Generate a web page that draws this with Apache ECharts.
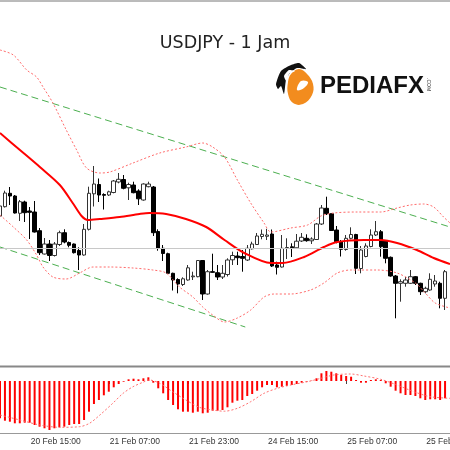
<!DOCTYPE html>
<html><head><meta charset="utf-8">
<script src="https://cdn.jsdelivr.net/npm/echarts@6/dist/echarts.min.js"></script>
<style>html,body{margin:0;padding:0;background:#fff}#c{width:450px;height:450px}</style>
</head><body><div id="c"></div>
<script>
// ---- hourly bar times (20 Feb 09:00 onward, weekend skipped) ----
function buildTimes(n){const out=[];let d=20,h=9;for(let i=0;i<n;i++){out.push(d+' Feb '+String(h).padStart(2,'0')+':00');h++;if(h===24){h=0;d=(d===21)?24:d+1;}}return out;}
const times = buildTimes(92);
const tickLabels = ['20 Feb 15:00','21 Feb 07:00','21 Feb 23:00','24 Feb 15:00','25 Feb 07:00','25 Feb 23:00'];

// ---- candle values ----
const open  = [149.64,149.733,149.867,149.84,149.667,149.78,149.69,149.68,149.493,149.26,149.36,149.245,149.355,149.473,149.375,149.36,149.295,149.25,149.507,149.862,149.955,149.855,149.85,149.875,149.98,150.005,149.922,149.95,149.89,149.8,149.933,149.93,149.485,149.317,149.263,149.067,149.005,148.955,149.0,149.032,149.033,149.195,148.86,149.083,149.073,149.03,149.055,149.202,149.24,149.235,149.2,149.312,149.355,149.435,149.437,149.46,149.15,149.13,149.315,149.332,149.322,149.39,149.417,149.392,149.405,149.56,149.717,149.663,149.5,149.383,149.305,149.417,149.455,149.115,149.235,149.335,149.45,149.483,149.39,149.227,149.04,148.967,148.967,148.967,149.033,148.967,148.883,148.9,148.96,148.967,148.817];
const close = [149.74,149.87,149.84,149.67,149.783,149.673,149.677,149.48,149.273,149.36,149.245,149.36,149.473,149.38,149.347,149.273,149.25,149.507,149.867,149.96,149.85,149.847,149.882,149.99,150.007,149.917,149.955,149.873,149.812,149.96,149.96,149.473,149.317,149.265,149.067,149.0,148.96,149.012,149.122,149.04,149.195,148.86,149.083,149.077,149.03,149.067,149.2,149.245,149.223,149.217,149.317,149.36,149.44,149.457,149.45,149.14,149.127,149.317,149.325,149.322,149.388,149.427,149.393,149.41,149.56,149.72,149.663,149.495,149.383,149.307,149.417,149.455,149.117,149.3,149.34,149.45,149.483,149.333,149.217,149.04,148.967,148.983,149.0,149.033,148.967,148.883,148.917,149.007,148.99,148.817,149.083];
const low   = [149.62,149.725,149.75,149.665,149.59,149.58,149.41,149.475,149.25,149.255,149.19,149.235,149.34,149.367,149.327,149.265,149.1,149.243,149.495,149.735,149.78,149.705,149.84,149.867,149.967,149.907,149.8,149.867,149.75,149.793,149.927,149.44,149.293,149.19,149.06,148.895,148.867,148.94,148.993,149.0,149.027,148.8,148.853,149.073,149.0,149.01,149.035,149.15,149.15,149.083,149.19,149.305,149.35,149.407,149.4,149.13,149.055,149.125,149.21,149.23,149.317,149.38,149.383,149.36,149.4,149.55,149.65,149.49,149.367,149.235,149.293,149.407,149.06,149.067,149.227,149.327,149.44,149.233,149.167,149.033,148.617,148.783,148.933,148.96,148.95,148.85,148.867,148.893,148.933,148.717,148.7];
const high  = [149.76,149.893,149.93,149.85,149.8,149.793,149.73,149.79,149.52,149.42,149.4,149.38,149.493,149.507,149.385,149.365,149.327,149.56,149.933,150.14,150.015,149.867,149.893,150.0,150.07,150.05,149.973,149.983,149.907,149.967,149.983,149.94,149.507,149.35,149.273,149.073,149.017,149.027,149.15,149.083,149.2,149.2,149.1,149.263,149.15,149.15,149.217,149.283,149.283,149.3,149.35,149.383,149.47,149.505,149.512,149.505,149.183,149.45,149.417,149.367,149.46,149.47,149.457,149.427,149.57,149.75,149.833,149.67,149.54,149.4,149.45,149.527,149.462,149.34,149.367,149.507,149.59,149.5,149.4,149.235,149.05,149.007,149.03,149.1,149.04,148.973,148.933,149.067,149.05,148.983,149.1];

// ---- overlays: [bar index, price] ----
const maLine = [[0,150.47],[4.03,150.30],[8.06,150.13],[12.1,149.95],[14.7,149.77],[16.5,149.64],[17.8,149.60],[20.2,149.61],[24.2,149.63],[28.2,149.66],[30.2,149.67],[33.6,149.66],[37.6,149.61],[41.7,149.53],[45.4,149.40],[49.4,149.27],[54.8,149.17],[57.1,149.17],[61.5,149.23],[65.5,149.33],[68.2,149.38],[73.6,149.40],[77,149.40],[80.3,149.37],[84.3,149.30],[87.7,149.22],[91,149.16]];
const upperBand = [[0,151.30],[2.7,151.25],[5.4,151.10],[7.4,151.03],[8.7,150.93],[10.7,150.77],[13.4,150.50],[15.5,150.30],[17.5,150.12],[20.2,150.07],[22.2,150.08],[26.9,150.17],[32.3,150.27],[37.6,150.33],[41,150.37],[43,150.33],[45.4,150.23],[48,150.00],[50.7,149.77],[53.4,149.57],[54.8,149.48],[58.8,149.52],[62.2,149.55],[64.9,149.64],[67.5,149.67],[72.2,149.68],[77,149.68],[80.3,149.72],[83,149.75],[85.7,149.76],[87.7,149.73],[89.7,149.63],[91,149.57]];
const lowerBand = [[0,149.65],[2.7,149.53],[5.4,149.40],[7.4,149.25],[8.7,149.13],[10.7,149.03],[13.4,149.01],[16.1,149.07],[18.8,149.13],[22.2,149.13],[26.9,149.12],[30.9,149.10],[33.6,149.07],[36.3,148.93],[39,148.83],[41,148.73],[43,148.65],[45.4,148.58],[48,148.62],[50.7,148.70],[53.4,148.83],[55.4,148.86],[58.8,148.86],[62.8,148.90],[65.5,148.97],[68.2,149.07],[70.9,149.10],[76.3,149.10],[80.3,149.07],[84,148.97],[86,148.87],[88,148.77],[91,148.72]];
const channelUpper = [[0,150.93],[91,149.53]];
const channelLower = [[0,149.33],[49.6,148.53]];
const priceLine = 149.32;

// ---- MACD panel ----
const macd = [-0.373,-0.397,-0.407,-0.423,-0.423,-0.417,-0.417,-0.44,-0.457,-0.473,-0.49,-0.473,-0.463,-0.457,-0.44,-0.43,-0.43,-0.39,-0.307,-0.23,-0.19,-0.143,-0.107,-0.063,-0.03,-0.007,0.017,0.023,0.017,0.027,0.037,-0.017,-0.073,-0.123,-0.19,-0.24,-0.283,-0.307,-0.307,-0.317,-0.307,-0.323,-0.317,-0.297,-0.297,-0.29,-0.263,-0.217,-0.197,-0.19,-0.15,-0.13,-0.097,-0.063,-0.04,-0.04,-0.063,-0.057,-0.05,-0.04,-0.03,-0.017,-0.007,0.003,0.027,0.077,0.10,0.093,0.077,0.06,0.05,0.043,0.01,-0.017,-0.017,0.01,0.017,0.01,-0.023,-0.057,-0.097,-0.123,-0.14,-0.14,-0.15,-0.173,-0.19,-0.183,-0.183,-0.19,-0.173];
const signal = [[0,-0.34],[4.03,-0.39],[8.06,-0.44],[12.1,-0.463],[16.1,-0.457],[18.1,-0.423],[20.2,-0.34],[22.8,-0.223],[24.9,-0.123],[26.9,-0.057],[28.9,-0.013],[30.2,0.01],[32.3,-0.023],[34.9,-0.107],[37.6,-0.19],[40.3,-0.263],[43,-0.29],[45.4,-0.302],[48,-0.273],[50.7,-0.207],[53.4,-0.123],[56.1,-0.073],[58.8,-0.04],[62.2,-0.007],[64.9,0.027],[67.5,0.06],[70.9,0.07],[73.6,0.05],[77,0.017],[80.3,-0.04],[83.7,-0.107],[87,-0.157],[91,-0.173]];

const candleData = open.map((o,i)=>[o, close[i], low[i], high[i]]);
const macdData = macd.map((v,i)=>[i, v]);
const isTick = (idx, val) => tickLabels.indexOf(val) >= 0;

const chart = echarts.init(document.getElementById('c'), null, {renderer:'canvas'});
chart.setOption({
  animation:false,
  backgroundColor:'#ffffff',
  grid:[{left:0,right:0,top:0,height:366,outerBoundsMode:'none',containLabel:false},
        {left:0,right:0,top:367,height:66,outerBoundsMode:'none',containLabel:false}],
  xAxis:[
    {type:'category',gridIndex:0,data:times,boundaryGap:false,show:false},
    {type:'value',gridIndex:0,min:0,max:91,show:false},
    {type:'category',gridIndex:1,data:times,boundaryGap:false,
      axisLine:{show:false},
      axisTick:{show:true,interval:isTick,length:3,lineStyle:{color:'#444'}},
      axisLabel:{interval:isTick,align:'left',margin:4,fontSize:8.5,color:'#333',fontFamily:'Liberation Sans',padding:[0,0,0,1]},
      splitLine:{show:false}},
    {type:'value',gridIndex:1,min:0,max:91,show:false}
  ],
  yAxis:[
    {type:'value',gridIndex:0,min:148.14,max:151.80,show:false,splitLine:{show:false}},
    {type:'value',gridIndex:1,min:-0.52,max:0.14,show:false,splitLine:{show:false}}
  ],
  series:[
    {type:'candlestick',xAxisIndex:0,yAxisIndex:0,data:candleData,barWidth:4,z:3,
      itemStyle:{color:'#ffffff',color0:'#000000',borderColor:'#333',borderColor0:'#000',borderWidth:1},
      markLine:{silent:true,symbol:'none',label:{show:false},lineStyle:{color:'#c8c8c8',width:1,type:'solid'},data:[{yAxis:priceLine}]}},
    {type:'line',xAxisIndex:1,yAxisIndex:0,data:channelUpper,symbol:'none',z:2,lineStyle:{color:'#4caf50',width:1,type:[7,4]}},
    {type:'line',xAxisIndex:1,yAxisIndex:0,data:channelLower,symbol:'none',z:2,lineStyle:{color:'#4caf50',width:1,type:[7,4]}},
    {type:'line',xAxisIndex:1,yAxisIndex:0,data:upperBand,symbol:'none',smooth:0.3,z:4,lineStyle:{color:'#ff6b6b',width:1,type:[2,2]}},
    {type:'line',xAxisIndex:1,yAxisIndex:0,data:lowerBand,symbol:'none',smooth:0.3,z:4,lineStyle:{color:'#ff6b6b',width:1,type:[2,2]}},
    {type:'line',xAxisIndex:1,yAxisIndex:0,data:maLine,symbol:'none',smooth:0.3,z:4,lineStyle:{color:'#ff0000',width:2}},
    {type:'bar',xAxisIndex:3,yAxisIndex:1,data:macdData,barWidth:2,itemStyle:{color:'#ff0000'}},
    {type:'line',xAxisIndex:3,yAxisIndex:1,data:signal,symbol:'none',smooth:0.3,z:4,lineStyle:{color:'#ff7070',width:1,type:[2,2]}}
  ],
  graphic:[
    {type:'line',shape:{x1:0,y1:1,x2:450,y2:1},style:{stroke:'#777',lineWidth:1},silent:true},
    {type:'line',shape:{x1:0,y1:366.5,x2:450,y2:366.5},style:{stroke:'#888',lineWidth:2},silent:true},
    {type:'line',shape:{x1:0,y1:433.5,x2:450,y2:433.5},style:{stroke:'#999',lineWidth:1},silent:true},
    {type:'text',left:'center',top:34,style:{text:'USDJPY - 1 Jam',font:'17.5px "DejaVu Sans"',fill:'#222'},silent:true},
    {type:'group',left:276,top:63,silent:true,children:[
      {type:'polygon',shape:{points:[[16,12],[24,7],[32,12],[38,22],[37,33],[28,42],[18,41],[13,32],[13,20]],smooth:0.4},style:{fill:'#f28c1e'}},
      {type:'polygon',shape:{points:[[22,28],[26,19],[33,20],[29,26]],smooth:0.4},style:{fill:'#ffffff'}},
      {type:'polygon',shape:{points:[[1,22],[6,9],[16,3],[24,1],[31,7],[22,6],[15,11],[11,18],[9,32],[6,24],[3,27]],smooth:0.2},style:{fill:'#111'}},
      {type:'polygon',shape:{points:[[9,14],[14,8],[20,9],[14,12],[12,20]],smooth:0.2},style:{fill:'#ffffff'}}
    ]},
    {type:'text',left:320,top:74,style:{text:'PEDIAFX',font:'bold 24px "Liberation Sans"',fill:'#111'},silent:true},
    {type:'text',x:431,y:78,rotation:-Math.PI/2,style:{text:'.COM',font:'5px "Liberation Sans"',fill:'#333'},silent:true}
  ]
});
</script></body></html>
